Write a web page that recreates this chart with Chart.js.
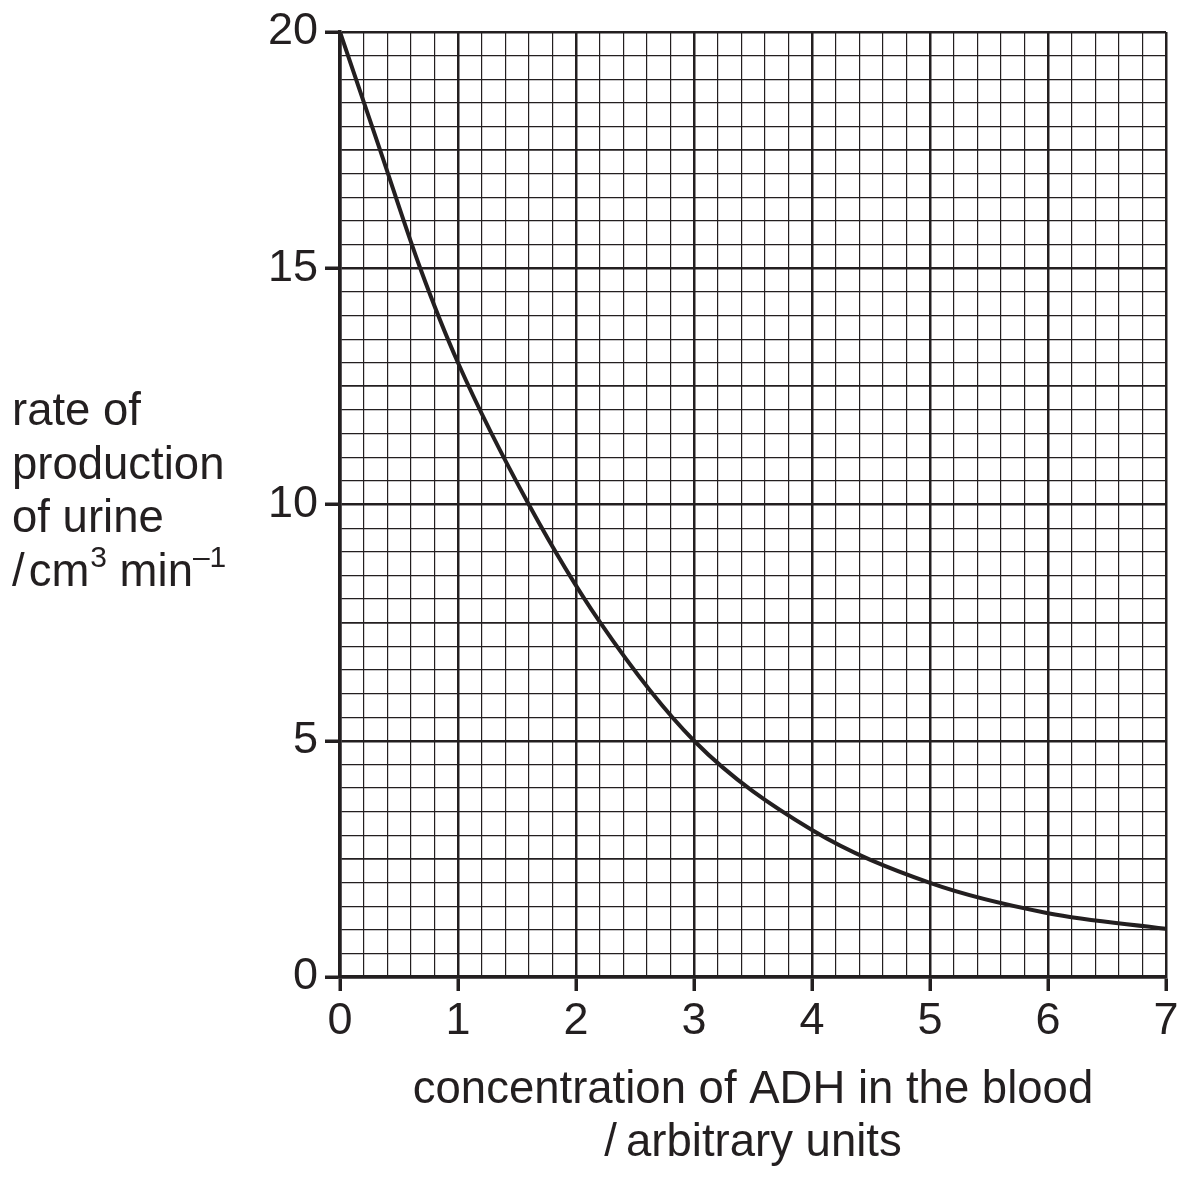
<!DOCTYPE html>
<html>
<head>
<meta charset="utf-8">
<script src="https://cdn.jsdelivr.net/npm/chart.js@4/dist/chart.umd.min.js"></script>
<style>
   html, body { margin: 0; padding: 0; background: #fff; }
   canvas { display: block; }
</style>
</head>
<body>
<canvas id="urineChart" width="1194" height="1177"></canvas>
<script>
// values
const concentration = [0, 0.34, 0.68, 1.0, 1.6, 2.2, 3.0, 4.0, 5.0, 6.0, 7.0];
const urineRate = [20, 17.5, 15.0, 13.0, 10.0, 7.52, 5.0, 3.11, 1.99, 1.35, 1.02];

const xTickLabels = ['0', '1', '2', '3', '4', '5', '6', '7'];
const yTickLabels = ['0', '5', '10', '15', '20'];

const yTitleLines = ['rate of', 'production', 'of urine'];
const xTitleLines = ['concentration of ADH in the blood', '/\u2009arbitrary units'];

const INK = '#231f20';
const FONT = '"Liberation Sans", Arial, Helvetica, sans-serif';

function isWhole(v, step) {
   const r = v / step;
   return Math.abs(r - Math.round(r)) < 1e-6;
}

// axis titles, with the superscripts of the unit
const axisTitles = {
   id: 'axisTitles',
   afterDraw(chart) {
      const c = chart.ctx;
      c.save();
      c.fillStyle = INK;
      c.textBaseline = 'alphabetic';
      c.textAlign = 'left';
      c.font = '45.5px ' + FONT;
      const baselines = [425, 479, 532, 586];
      yTitleLines.forEach((line, i) => c.fillText(line, 12, baselines[i]));

      // "/ cm3 min-1"
      let x = 12;
      const y = baselines[3];
      c.fillText('/', x, y);
      x += c.measureText('/').width + 4;
      c.fillText('cm', x, y);
      x += c.measureText('cm').width + 1;
      c.font = '30px ' + FONT;
      c.fillText('3', x, y - 19);
      x += c.measureText('3').width;
      c.font = '45.5px ' + FONT;
      c.fillText(' min', x, y);
      x += c.measureText(' min').width;
      c.font = '30px ' + FONT;
      c.fillText('\u20131', x, y - 19);

      c.font = '45.5px ' + FONT;
      c.textAlign = 'center';
      const mid = (chart.chartArea.left + chart.chartArea.right) / 2;
      c.fillText(xTitleLines[0], mid, 1103);
      c.fillText(xTitleLines[1], mid, 1156);
      c.restore();
   }
};

const ctx = document.getElementById('urineChart').getContext('2d');
new Chart(ctx, {
   type: 'scatter',
   data: {
      datasets: [{
         data: concentration.map((v, i) => ({ x: v, y: urineRate[i] })),
         showLine: true,
         borderColor: INK,
         borderWidth: 4,
         pointRadius: 0,
         fill: false,
         cubicInterpolationMode: 'monotone'
      }]
   },
   options: {
      responsive: false,
      animation: false,
      layout: {
         padding: { top: 32, right: 28, left: 0, bottom: 0 }
      },
      plugins: {
         legend: { display: false },
         tooltip: { enabled: false }
      },
      scales: {
         x: {
            type: 'linear',
            min: 0,
            max: 7,
            afterFit(scale) {
               scale.height = 200;
               scale.paddingLeft = 0;
               scale.paddingRight = 0;
            },
            border: { display: true, color: INK, width: 3.5 },
            grid: {
               color: INK,
               lineWidth: (c) => isWhole(c.tick.value, 1) ? 2.5 : 1.2,
               drawTicks: true,
               tickLength: 14,
               tickWidth: 3.5,
               tickColor: (c) => isWhole(c.tick.value, 1) ? INK : 'rgba(0,0,0,0)'
            },
            ticks: {
               stepSize: 0.2,
               autoSkip: false,
               maxRotation: 0,
               padding: 4,
               color: INK,
               font: { family: FONT, size: 45 },
               callback: (v) => isWhole(v, 1) ? xTickLabels[Math.round(v)] : ''
            }
         },
         y: {
            type: 'linear',
            min: 0,
            max: 20,
            afterFit(scale) {
               scale.width = 340;
               scale.paddingTop = 0;
               scale.paddingBottom = 0;
            },
            border: { display: true, color: INK, width: 3.5 },
            grid: {
               color: INK,
               lineWidth: (c) => isWhole(c.tick.value, 5) ? 2.5 : (isWhole(c.tick.value, 2.5) ? 1.8 : 1.2),
               drawTicks: true,
               tickLength: 15,
               tickWidth: 3.5,
               tickColor: (c) => isWhole(c.tick.value, 5) ? INK : 'rgba(0,0,0,0)'
            },
            ticks: {
               stepSize: 0.5,
               autoSkip: false,
               padding: 7,
               color: INK,
               font: { family: FONT, size: 45 },
               callback: (v) => isWhole(v, 5) ? yTickLabels[Math.round(v / 5)] : ''
            }
         }
      }
   },
   plugins: [axisTitles]
});
</script>
</body>
</html>
